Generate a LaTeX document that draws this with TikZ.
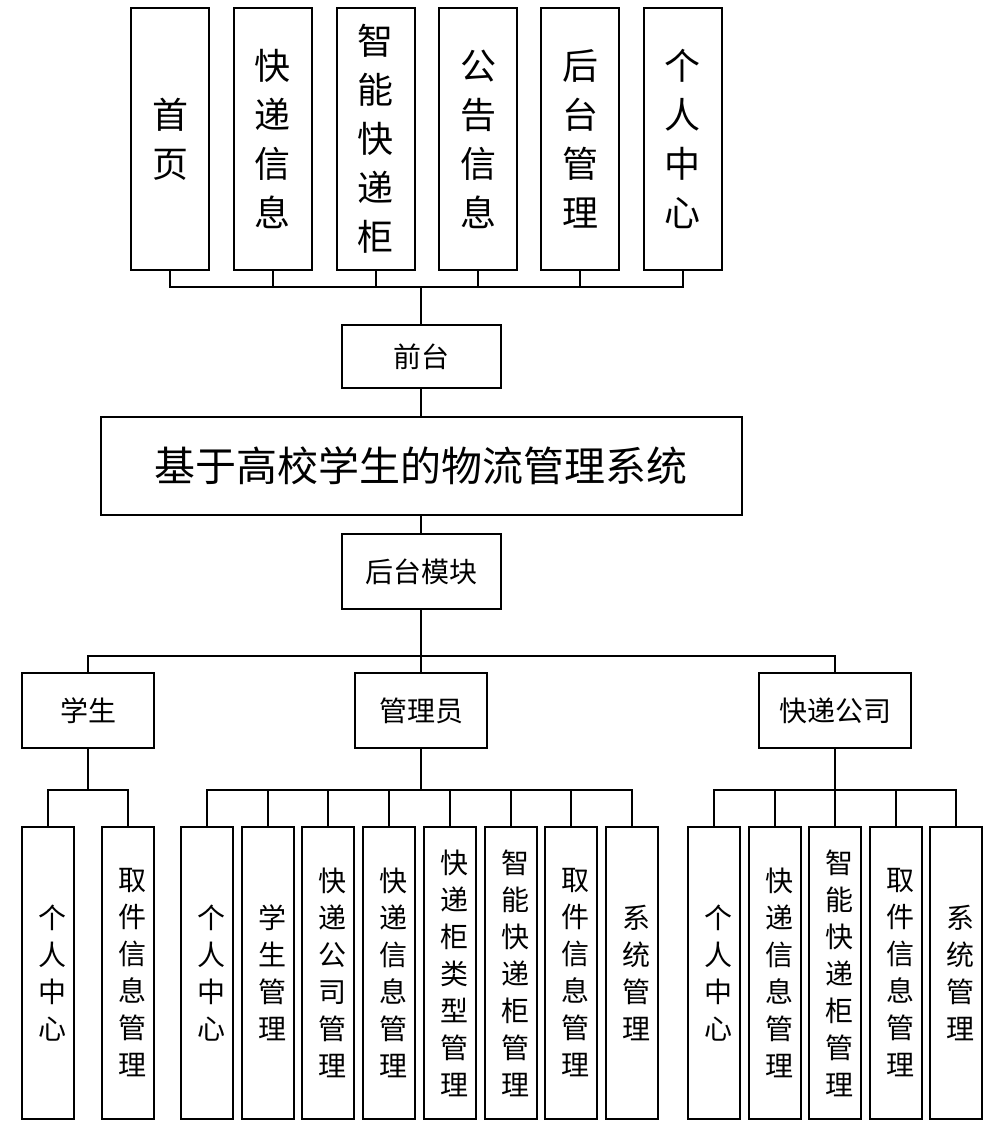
\documentclass[tikz,border=0pt]{standalone}
\usepackage{fontspec}
\setmainfont{Noto Sans CJK SC}
\begin{document}
\begin{tikzpicture}[x=1pt,y=-1pt,line width=2pt,line join=miter,
  box/.style={draw=black,rectangle,inner sep=0pt,line width=2pt},
  topbox/.style={box,minimum width=78pt,minimum height=262pt,align=center,font=\fontsize{36}{49}\selectfont},
  midbox/.style={box,minimum width=159pt,font=\fontsize{28}{34}\selectfont},
  rolebox/.style={box,minimum width=132pt,minimum height=75pt,font=\fontsize{28}{34}\selectfont},
  botbox/.style={box,minimum width=52pt,minimum height=292pt},
  bottext/.style={inner sep=0pt,align=center,font=\fontsize{28}{37}\selectfont},
  conn/.style={draw=black,line width=2pt}]
\useasboundingbox (0,0) rectangle (987,1124);

% top row
\node[topbox] (t1) at (170,139) {首\\页};
\node[topbox] (t2) at (272.5,139) {快\\递\\信\\息};
\node[topbox] (t3) at (375.5,139) {智\\能\\快\\递\\柜};
\node[topbox] (t4) at (478,139) {公\\告\\信\\息};
\node[topbox] (t5) at (580,139) {后\\台\\管\\理};
\node[topbox] (t6) at (682.5,139) {个\\人\\中\\心};

\node[midbox,minimum height=63pt] (qt) at (421,356.5) {前台};
\node[box,minimum width=641pt,minimum height=98pt,font=\fontsize{41}{48}\selectfont] (sys) at (421,466) {基于高校学生的物流管理系统};
\node[midbox,minimum height=75pt] (ht) at (421,571.5) {后台模块};

\node[rolebox] (xs) at (88,710.5) {学生};
\node[rolebox] (gl) at (421,710.5) {管理员};
\node[rolebox,minimum width=152pt] (kd) at (835,710.5) {快递公司};

% top connectors
\coordinate (topbus) at (421,287);
\draw[conn] (qt.north) -- (topbus);
\foreach \n in {t1,t2,t3,t4,t5,t6} {\draw[conn] (\n.south) |- (topbus);}
\draw[conn] (qt.south) -- (sys.north);
\draw[conn] (sys.south) -- (ht.north);

\coordinate (midbus) at (421,656);
\draw[conn] (ht.south) -- (midbus);
\draw[conn] (xs.north) |- (midbus);
\draw[conn] (gl.north) -- (midbus);
\draw[conn] (kd.north) |- (midbus);

% student children
\node[botbox] (a1) at (48,973) {};
\node[botbox] (a2) at (127.5,973) {};
\node[bottext] (a1t) at ([xshift=4.5]a1.center) {个\\人\\中\\心};
\node[bottext] (a2t) at ([xshift=4.5]a2.center) {取\\件\\信\\息\\管\\理};
\coordinate (xsbus) at (88,790);
\draw[conn] (xs.south) -- (xsbus);
\draw[conn] (a1.north) |- (xsbus);
\draw[conn] (a2.north) |- (xsbus);

% admin children
\node[botbox] (b1) at (207,973) {};
\node[botbox] (b2) at (267.7,973) {};
\node[botbox] (b3) at (328.4,973) {};
\node[botbox] (b4) at (389.1,973) {};
\node[botbox] (b5) at (449.8,973) {};
\node[botbox] (b6) at (510.5,973) {};
\node[botbox] (b7) at (571.2,973) {};
\node[botbox] (b8) at (631.9,973) {};
\node[bottext] (b1t) at ([xshift=4.5]b1.center) {个\\人\\中\\心};
\node[bottext] (b2t) at ([xshift=4.5]b2.center) {学\\生\\管\\理};
\node[bottext] (b3t) at ([xshift=4.5]b3.center) {快\\递\\公\\司\\管\\理};
\node[bottext] (b4t) at ([xshift=4.5]b4.center) {快\\递\\信\\息\\管\\理};
\node[bottext] (b5t) at ([xshift=4.5]b5.center) {快\\递\\柜\\类\\型\\管\\理};
\node[bottext] (b6t) at ([xshift=4.5]b6.center) {智\\能\\快\\递\\柜\\管\\理};
\node[bottext] (b7t) at ([xshift=4.5]b7.center) {取\\件\\信\\息\\管\\理};
\node[bottext] (b8t) at ([xshift=4.5]b8.center) {系\\统\\管\\理};
\coordinate (glbus) at (421,790);
\draw[conn] (gl.south) -- (glbus);
\foreach \n in {b1,b2,b3,b4,b5,b6,b7,b8} {\draw[conn] (\n.north) |- (glbus);}

% courier children
\node[botbox] (c1) at (714,973) {};
\node[botbox] (c2) at (774.6,973) {};
\node[botbox] (c3) at (835.2,973) {};
\node[botbox] (c4) at (895.8,973) {};
\node[botbox] (c5) at (956.4,973) {};
\node[bottext] (c1t) at ([xshift=4.5]c1.center) {个\\人\\中\\心};
\node[bottext] (c2t) at ([xshift=4.5]c2.center) {快\\递\\信\\息\\管\\理};
\node[bottext] (c3t) at ([xshift=4.5]c3.center) {智\\能\\快\\递\\柜\\管\\理};
\node[bottext] (c4t) at ([xshift=4.5]c4.center) {取\\件\\信\\息\\管\\理};
\node[bottext] (c5t) at ([xshift=4.5]c5.center) {系\\统\\管\\理};
\coordinate (kdbus) at (835,790);
\draw[conn] (kd.south) -- (kdbus);
\foreach \n in {c1,c2,c3,c4,c5} {\draw[conn] (\n.north) |- (kdbus);}
\end{tikzpicture}
\end{document}
